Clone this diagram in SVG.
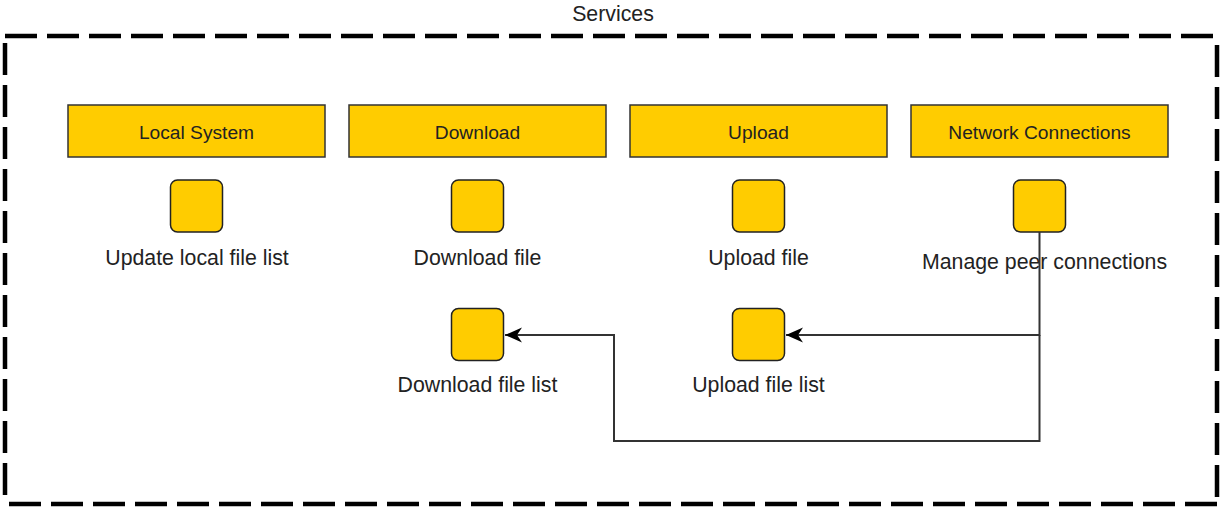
<svg xmlns="http://www.w3.org/2000/svg" width="1225" height="507" viewBox="0 0 1225 507">
  <style>
    .frame { fill: none; stroke: #000; stroke-width: 4.5; stroke-dasharray: 32 10; }
    .header { fill: #FFCC00; stroke: #333; stroke-width: 1.5; }
    .task { fill: #FFCC00; stroke: #222; stroke-width: 1.5; }
    .htext { font-family: "Liberation Sans", Arial, sans-serif; font-size: 19.2px; fill: #222; text-anchor: middle; }
    .ltext { font-family: "Liberation Sans", Arial, sans-serif; font-size: 21.3px; fill: #222; text-anchor: middle; }
    .edge { fill: none; stroke: #333; stroke-width: 2; }
  </style>
  <defs>
    <marker id="arrow" markerUnits="userSpaceOnUse" markerWidth="20" markerHeight="18" refX="17" refY="7.5" orient="auto">
      <path d="M 17 7.5 L 0 0 L 5 7.5 L 0 15 Z" fill="#000"/>
    </marker>
  </defs>

  <!-- Services boundary -->
  <g id="services">
    <text class="ltext" x="613" y="21">Services</text>
    <line class="frame" x1="5" y1="36" x2="1217" y2="36"/>
    <line class="frame" x1="1217" y1="45" x2="1217" y2="504"/>
    <line class="frame" x1="1217" y1="504" x2="5" y2="504"/>
    <line class="frame" x1="5" y1="43" x2="5" y2="504"/>
  </g>

  <!-- Lane headers -->
  <g id="lane-local">
    <rect class="header" x="68" y="105" width="257" height="52"/>
    <text class="htext" x="196.5" y="138.5">Local System</text>
  </g>
  <g id="lane-download">
    <rect class="header" x="349" y="105" width="257" height="52"/>
    <text class="htext" x="477.5" y="138.5">Download</text>
  </g>
  <g id="lane-upload">
    <rect class="header" x="630" y="105" width="257" height="52"/>
    <text class="htext" x="758.5" y="138.5">Upload</text>
  </g>
  <g id="lane-network">
    <rect class="header" x="911" y="105" width="257" height="52"/>
    <text class="htext" x="1039.5" y="138.5">Network Connections</text>
  </g>

  <!-- Tasks -->
  <g id="update-local-file-list">
    <rect class="task" x="170.5" y="180" width="52" height="52" rx="7"/>
    <text class="ltext" x="197" y="265">Update local file list</text>
  </g>
  <g id="download-file">
    <rect class="task" x="451.5" y="180" width="52" height="52" rx="7"/>
    <text class="ltext" x="477.5" y="265">Download file</text>
  </g>
  <g id="upload-file">
    <rect class="task" x="732.5" y="180" width="52" height="52" rx="7"/>
    <text class="ltext" x="758.5" y="265">Upload file</text>
  </g>
  <g id="manage-peer-connections">
    <rect class="task" x="1013.5" y="180" width="52" height="52" rx="7"/>
    <text class="ltext" x="1044.5" y="269">Manage peer connections</text>
  </g>
  <g id="download-file-list">
    <rect class="task" x="451.5" y="308.5" width="52" height="52" rx="7"/>
    <text class="ltext" x="477.5" y="392">Download file list</text>
  </g>
  <g id="upload-file-list">
    <rect class="task" x="732.5" y="308.5" width="52" height="52" rx="7"/>
    <text class="ltext" x="758.5" y="392">Upload file list</text>
  </g>

  <!-- Connectors -->
  <g id="connectors">
    <path class="edge" d="M 1039.5 232 L 1039.5 335 L 786 335" marker-end="url(#arrow)"/>
    <path class="edge" d="M 1039.5 335 L 1039.5 441 L 614 441 L 614 335 L 505 335" marker-end="url(#arrow)"/>
  </g>
</svg>
